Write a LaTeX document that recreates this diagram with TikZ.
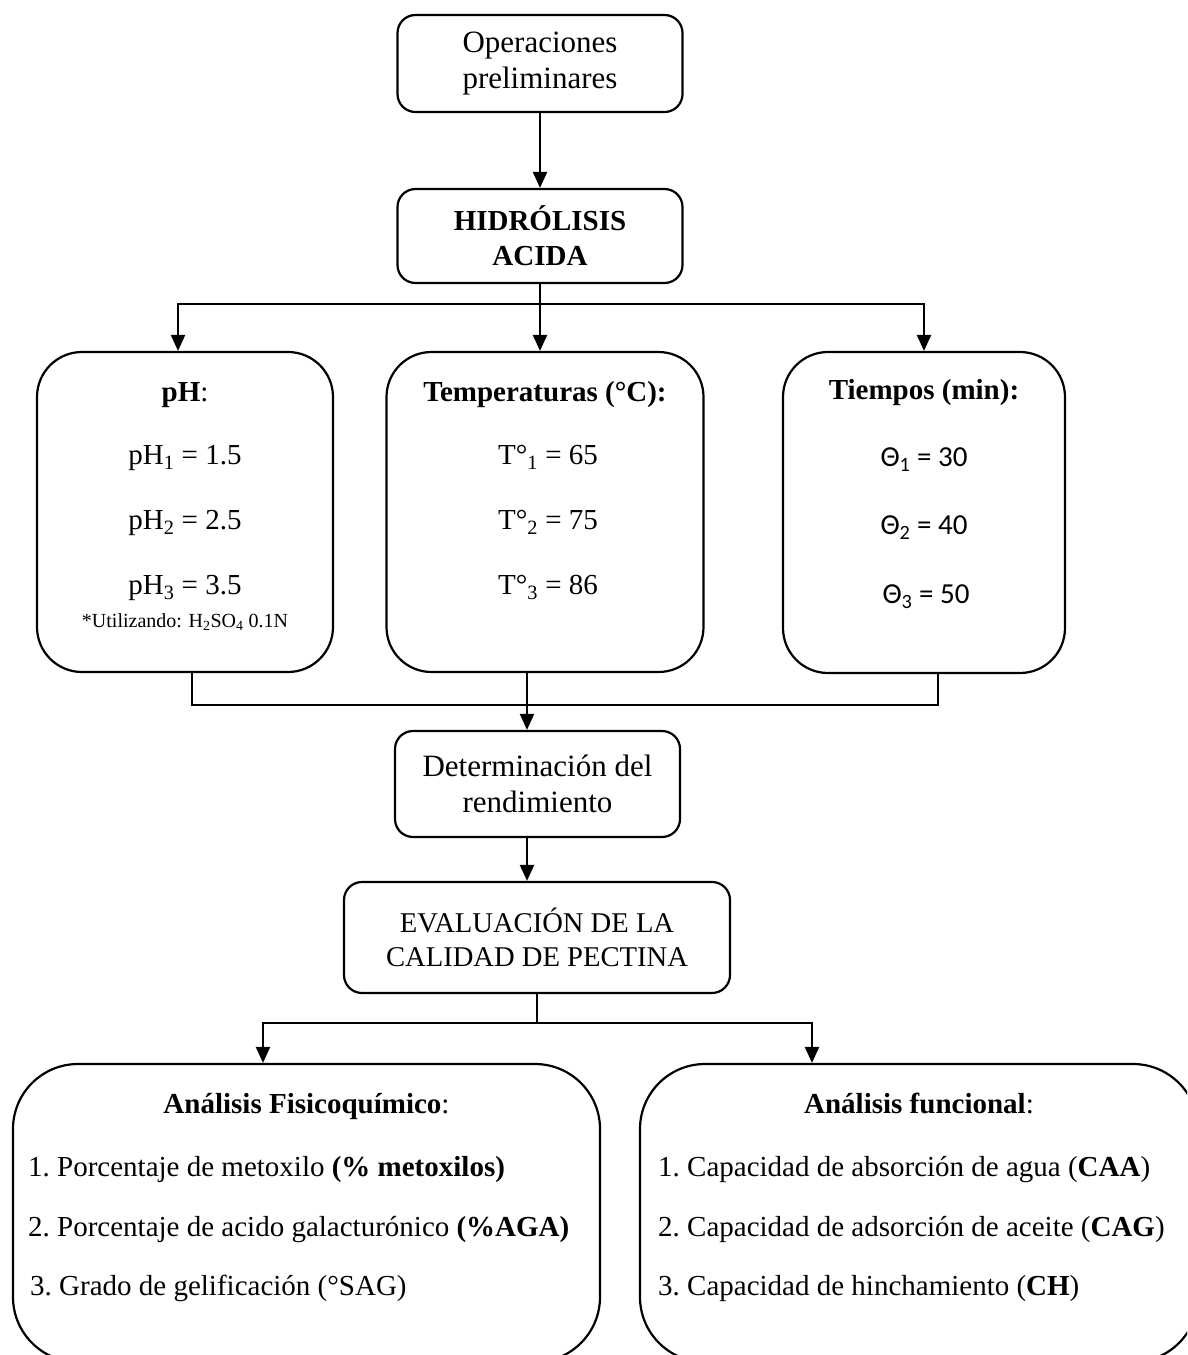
\documentclass[tikz,border=0pt]{standalone}
\usepackage{fontspec}
\setmainfont{Liberation Serif}
\newfontfamily\calib{Carlito}
\usepackage{tikz}
\usetikzlibrary{arrows.meta}
\definecolor{ink}{HTML}{000000}
\tikzset{
  box/.style={draw=ink, line width=2.2pt, rounded corners=18pt, inner sep=0pt, align=center, font=\fontsize{31}{36}\selectfont},
  tall/.style={draw=ink, line width=2.2pt, rounded corners=45pt, inner sep=0pt},
  wide/.style={draw=ink, line width=2.2pt, rounded corners=65pt, inner sep=0pt},
  lin/.style={draw=ink, line width=2.2pt},
  arr/.style={draw=ink, line width=2.2pt, -{Triangle[width=14pt,length=16pt]}},
  lab/.style={text=ink, inner sep=0pt, text height=20pt, text depth=7pt, font=\fontsize{29}{35}\selectfont},
  labs/.style={text=ink, inner sep=0pt, text height=14pt, text depth=5pt, font=\fontsize{20}{24}\selectfont},
}

\begin{document}
\begin{tikzpicture}[x=1pt, y=-1pt]
  \useasboundingbox (0,0) rectangle (1187,1355);
  \clip (0,0) rectangle (1187,1355);
  % upper chain
  \node[box, minimum width=285pt, minimum height=97pt] (ops) at (540,63.5) {Operaciones\\preliminares};
  \node[box, minimum width=285pt, minimum height=94pt, font=\bfseries\fontsize{29}{35}\selectfont] (hid) at (540,236) {HIDRÓLISIS\\ACIDA};
  \draw[arr] (ops.south) -- (hid.north);
  % three factors
  \node[tall, minimum width=296pt, minimum height=320pt] (ph) at (185,512) {};
  \node[tall, minimum width=317pt, minimum height=320pt] (temp) at (545,512) {};
  \node[tall, minimum width=282pt, minimum height=321pt] (tie) at (924,512.5) {};
  \node[lab] (phH) at (185,395) {\textbf{pH}:};
  \node[lab] (ph1) at (185,458) {pH\textsubscript{1} = 1.5};
  \node[lab] (ph2) at (185,523) {pH\textsubscript{2} = 2.5};
  \node[lab] (ph3) at (185,588) {pH\textsubscript{3} = 3.5};
  \node[labs] (phn) at (185,623) {*Utilizando: H\textsubscript{2}SO\textsubscript{4} 0.1N};
  \node[lab] (tH) at (545,395) {\textbf{Temperaturas (°C):}};
  \node[lab] (t1) at (548,458) {T°\textsubscript{1} = 65};
  \node[lab] (t2) at (548,523) {T°\textsubscript{2} = 75};
  \node[lab] (t3) at (548,588) {T°\textsubscript{3} = 86};
  \node[lab] (thH) at (924,393) {\textbf{Tiempos (min):}};
  \node[lab] (th1) at (924,460) {\calib Θ\textsubscript{1} = 30};
  \node[lab] (th2) at (924,528) {\calib Θ\textsubscript{2} = 40};
  \node[lab] (th3) at (926,597) {\calib Θ\textsubscript{3} = 50};
  \coordinate (top) at (540,304);
  \draw[lin] (hid.south) -- (top);
  \draw[arr] (top) -| ([xshift=-7pt]ph.north);
  \draw[arr] (top) -- (top |- temp.north);
  \draw[arr] (top) -| (tie.north);
  % yield and quality
  \node[box, minimum width=285pt, minimum height=106pt] (det) at (537.5,784) {Determinación del\\rendimiento};
  \node[box, minimum width=386pt, minimum height=111pt, font=\fontsize{28.6}{34}\selectfont] (eval) at (537,937.5) {EVALUACIÓN DE LA\\CALIDAD DE PECTINA};
  \coordinate (mid) at (527,705);
  \coordinate (tout) at ([xshift=-18pt]temp.south);
  \draw[lin] ([xshift=7pt]ph.south) |- (mid);
  \draw[lin] ([xshift=14pt]tie.south) |- (mid);
  \draw[arr] (tout) -- (mid) -- (mid |- det.north);
  \coordinate (dout) at ([xshift=-10.5pt]det.south);
  \draw[arr] (dout) -- (dout |- eval.north);
  % analyses
  \node[wide, minimum width=587pt, minimum height=298pt] (fis) at (306.5,1213) {};
  \node[wide, minimum width=558pt, minimum height=298pt] (fun) at (919,1213) {};
  \node[lab] (fisH) at (306.5,1107) {\textbf{Análisis Fisicoquímico}:};
  \node[lab, anchor=west] (fis1) at (28,1170) {1.\ Porcentaje de metoxilo \textbf{(\% metoxilos)}};
  \node[lab, anchor=west] (fis2) at (28,1230) {2.\ Porcentaje de acido galacturónico \textbf{(\%AGA)}};
  \node[lab, anchor=west] (fis3) at (30,1289) {3.\ Grado de gelificación (°SAG)};
  \node[lab] (funH) at (919,1107) {\textbf{Análisis funcional}:};
  \node[lab, anchor=west] (fun1) at (658,1170) {1.\ Capacidad de absorción de agua (\textbf{CAA})};
  \node[lab, anchor=west] (fun2) at (658,1230) {2.\ Capacidad de adsorción de aceite (\textbf{CAG})};
  \node[lab, anchor=west] (fun3) at (658,1289) {3.\ Capacidad de hinchamiento (\textbf{CH})};
  \coordinate (low) at (537,1023);
  \draw[lin] (eval.south) -- (low);
  \draw[arr] (low) -| ([xshift=-43.5pt]fis.north);
  \draw[arr] (low) -| ([xshift=-107pt]fun.north);
\end{tikzpicture}
\end{document}
